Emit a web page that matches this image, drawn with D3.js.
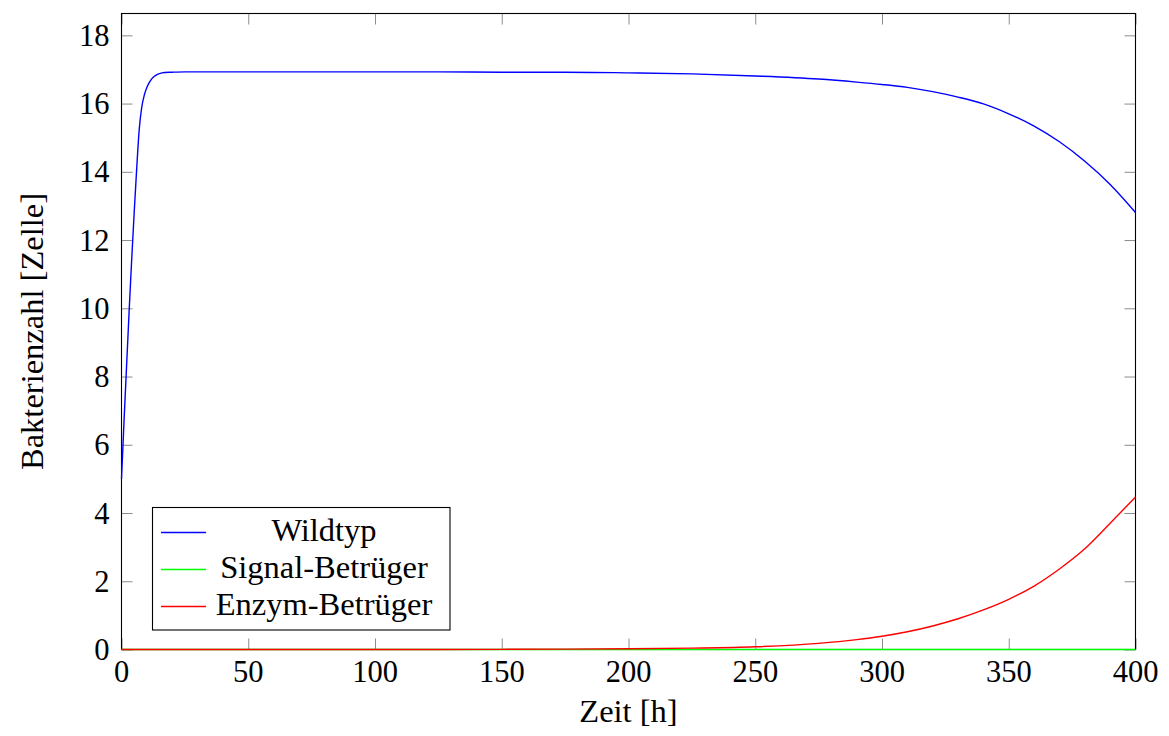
<!DOCTYPE html>
<html>
<head>
<meta charset="utf-8">
<script src="https://cdn.jsdelivr.net/npm/d3@7"></script>
<style>
  html, body { margin: 0; padding: 0; background: #fff; }
</style>
</head>
<body>
<svg id="chart" width="1169" height="736"></svg>
<script>
// Simulation output: cell counts over time for the three strains
const time = [0, 1, 2, 3, 4, 5, 6, 7, 8, 9, 10, 11, 12, 13, 14, 15, 17, 20, 25, 30,
  50, 75, 100, 125, 150, 175, 200, 225, 250, 275, 290, 300, 310, 320, 330, 340,
  350, 360, 370, 380, 390, 400];
const wildtyp = [5.0, 6.7, 8.3, 9.9, 11.4, 12.8, 14.1, 15.25, 15.9, 16.25, 16.47, 16.62,
  16.73, 16.8, 16.85, 16.88, 16.91, 16.92, 16.93, 16.93,
  16.93, 16.93, 16.93, 16.93, 16.92, 16.92, 16.90, 16.87, 16.81, 16.72, 16.63, 16.56,
  16.475, 16.35, 16.19, 15.99, 15.70, 15.34, 14.88, 14.31, 13.63, 12.81];
const signalBetrueger = [0, 0, 0, 0, 0, 0, 0, 0, 0, 0, 0, 0, 0, 0, 0, 0, 0, 0, 0, 0,
  0, 0, 0, 0, 0, 0, 0, 0, 0, 0, 0, 0, 0, 0, 0, 0, 0, 0, 0, 0, 0, 0];
const enzymBetrueger = [0, 0, 0, 0, 0, 0, 0, 0, 0, 0, 0, 0, 0, 0, 0, 0, 0, 0, 0, 0,
  0, 0, 0.001, 0.002, 0.005, 0.01, 0.02, 0.04, 0.08, 0.18, 0.29, 0.39, 0.52, 0.69,
  0.9, 1.16, 1.47, 1.86, 2.36, 2.95, 3.7, 4.47];

const xTicks = [0, 50, 100, 150, 200, 250, 300, 350, 400];
const yTicks = [0, 2, 4, 6, 8, 10, 12, 14, 16, 18];

const seriesNames = ["Wildtyp", "Signal-Betrüger", "Enzym-Betrüger"];
const seriesColors = ["#0000ff", "#00ff00", "#ff0000"];
const seriesValues = [wildtyp, signalBetrueger, enzymBetrueger];

const xLabel = "Zeit [h]";
const yLabel = "Bakterienzahl [Zelle]";

const serifFont = "'Liberation Serif', 'Times New Roman', 'DejaVu Serif', serif";

// plot frame
const plotLeft = 121.5, plotRight = 1135.5, plotTop = 13.5, plotBottom = 649.5;

const svg = d3.select("#chart").attr("font-family", serifFont);
const x = d3.scaleLinear().domain([0, 400]).range([plotLeft, plotRight]);
const y = d3.scaleLinear().domain([0, 18.64]).range([plotBottom, plotTop]);

const tickLen = 11;
const tickColor = "#8c8c8c";

// ticks on all four sides, pointing inward
const xAxisBottom = d3.axisBottom(x).tickValues(xTicks).tickSize(-tickLen).tickFormat("");
const xAxisTop = d3.axisTop(x).tickValues(xTicks).tickSize(-tickLen).tickFormat("");
const yAxisLeft = d3.axisLeft(y).tickValues(yTicks).tickSize(-tickLen).tickFormat("");
const yAxisRight = d3.axisRight(y).tickValues(yTicks).tickSize(-tickLen).tickFormat("");

function styleAxis(g) {
  g.select(".domain").remove();
  g.selectAll(".tick line").attr("stroke", tickColor).attr("stroke-width", 1);
}
svg.append("g").attr("transform", `translate(0,${plotBottom})`).call(xAxisBottom).call(styleAxis);
svg.append("g").attr("transform", `translate(0,${plotTop})`).call(xAxisTop).call(styleAxis);
svg.append("g").attr("transform", `translate(${plotLeft},0)`).call(yAxisLeft).call(styleAxis);
svg.append("g").attr("transform", `translate(${plotRight},0)`).call(yAxisRight).call(styleAxis);

// tick labels
svg.append("g").selectAll("text").data(xTicks).join("text")
  .attr("x", d => x(d)).attr("y", 681.7)
  .attr("text-anchor", "middle").attr("font-size", 30.5)
  .attr("font-family", serifFont)
  .text(d => d);
svg.append("g").selectAll("text").data(yTicks).join("text")
  .attr("x", 109.5).attr("y", d => y(d) + 10.5)
  .attr("text-anchor", "end").attr("font-size", 30.5)
  .attr("font-family", serifFont)
  .text(d => d);

// frame
svg.append("rect")
  .attr("x", plotLeft).attr("y", plotTop)
  .attr("width", plotRight - plotLeft).attr("height", plotBottom - plotTop)
  .attr("fill", "none").attr("stroke", "#000").attr("stroke-width", 1.1);

// series
const line = d3.line().x((d, i) => x(time[i])).y(d => y(d)).curve(d3.curveMonotoneX);
svg.append("g").selectAll("path").data(seriesValues).join("path")
  .attr("d", d => line(d))
  .attr("fill", "none")
  .attr("stroke", (d, i) => seriesColors[i])
  .attr("stroke-width", 1.4)
  .attr("stroke-linejoin", "round");

// axis titles
svg.append("text")
  .attr("x", (plotLeft + plotRight) / 2).attr("y", 722)
  .attr("text-anchor", "middle").attr("font-size", 32.5)
  .attr("font-family", serifFont)
  .text(xLabel);
svg.append("text")
  .attr("transform", `translate(43,${(plotTop + plotBottom) / 2}) rotate(-90)`)
  .attr("text-anchor", "middle").attr("font-size", 32.5)
  .attr("font-family", serifFont)
  .text(yLabel);

// legend
const legend = svg.append("g");
legend.append("rect")
  .attr("x", 152.5).attr("y", 507.5).attr("width", 297.5).attr("height", 122.5)
  .attr("fill", "#fff").attr("stroke", "#000").attr("stroke-width", 1.1);
const rowY = d3.scalePoint().domain(seriesNames).range([532.5, 606.5]);
legend.selectAll("line").data(seriesNames).join("line")
  .attr("x1", 161).attr("x2", 206)
  .attr("y1", d => rowY(d)).attr("y2", d => rowY(d))
  .attr("stroke", (d, i) => seriesColors[i]).attr("stroke-width", 1.3);
legend.selectAll("text").data(seriesNames).join("text")
  .attr("x", 324).attr("y", d => rowY(d) + 8.5)
  .attr("text-anchor", "middle").attr("font-size", 32.5)
  .attr("font-family", serifFont)
  .text(d => d);
</script>
</body>
</html>
